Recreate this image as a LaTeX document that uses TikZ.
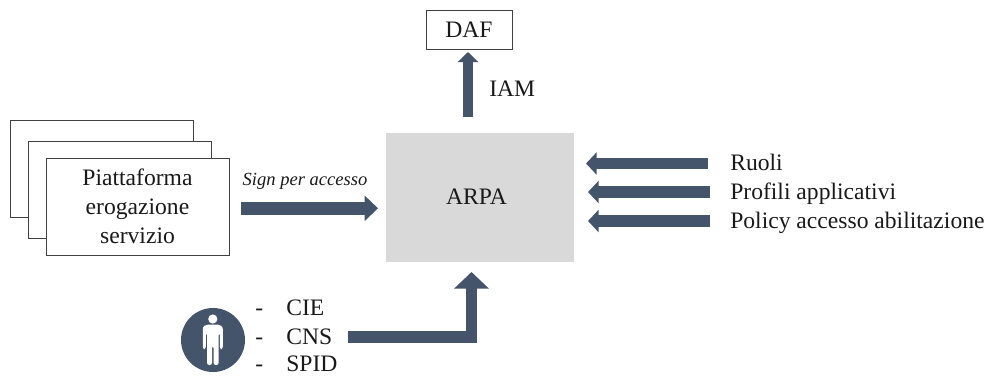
\documentclass[tikz,border=0pt]{standalone}
\usepackage{fontspec}
\setmainfont{Liberation Serif}
\usetikzlibrary{arrows.meta}
\definecolor{arrowblue}{HTML}{44546A}
\definecolor{boxline}{HTML}{404040}
\definecolor{arpagrey}{HTML}{D9D9D9}
\tikzset{
  x=0.75pt,y=-0.75pt,
  card/.style={draw=boxline,line width=0.75pt,fill=white,minimum width=137.25pt,minimum height=72.75pt,inner sep=0pt},
  lbl/.style={font=\fontsize{17.7}{21.7}\selectfont,inner sep=0pt,text=black!90},
  listlbl/.style={lbl,anchor=base west},
  blockarrow/.style={arrowblue,line width=10pt,-{Triangle[length=10pt,width=18.5pt]}},
  sidearrow/.style={arrowblue,line width=8.5pt,-{Triangle[length=8pt,width=16.5pt]}},
  smallup/.style={arrowblue,line width=7.5pt,-{Triangle[length=7.5pt,width=15pt]}},
  bigup/.style={arrowblue,line width=8.5pt,-{Triangle[length=12.5pt,width=25.5pt]}},
}
\begin{document}
\begin{tikzpicture}
\useasboundingbox (0,0) rectangle (990,376);
% stacked cards
\node[card] (back) at (101.5,168.5) {};
\node[card] (mid) at (119.5,189.5) {};
\node[card,lbl,align=center] (front) at (137.5,206.5) {Piattaforma\\erogazione\\servizio};
% main boxes
\node[draw=none,fill=arpagrey,minimum width=141pt,minimum height=96.75pt,inner sep=0pt] (arpa) at (480,197.5) {};
\node[lbl] (arpatext) at (476.5,196.5) {ARPA};
\node[draw=boxline,line width=0.75pt,fill=white,minimum width=64.5pt,minimum height=29.25pt,inner sep=0pt,lbl] (daf) at (469,29.5) {DAF};
% sign arrow
\coordinate (signstart) at (241,208.3);
\coordinate (signend) at (378,208.3);
\draw[blockarrow] (signstart) -- (signend);
\node[lbl,font=\fontsize{13.9}{16}\selectfont\itshape] (sign) at (305,181) {Sign per accesso};
% IAM arrow
\coordinate (iamstart) at (468,117);
\coordinate (iamend) at (468,52);
\draw[smallup] (iamstart) -- (iamend);
\node[listlbl] (iam) at (489,96) {IAM};
% right-hand arrows and labels
\coordinate (r1s) at (708,163.5);
\coordinate (r1e) at (586,163.5);
\coordinate (r2s) at (710,192);
\coordinate (r2e) at (588,192);
\coordinate (r3s) at (710,221);
\coordinate (r3e) at (588,221);
\draw[sidearrow] (r1s) -- (r1e);
\draw[sidearrow] (r2s) -- (r2e);
\draw[sidearrow] (r3s) -- (r3e);
\node[listlbl] (ruoli) at (730,170) {Ruoli};
\node[listlbl] (profili) at (730,199.5) {Profili applicativi};
\node[listlbl] (policy) at (730,228) {Policy accesso abilitazione};
% user
\node[circle,fill=arrowblue,minimum size=48pt,inner sep=0pt] (user) at (213,340) {};
\fill[white] (212.8,319) circle (4.6);
\fill[white,rounded corners=1.6pt]
  (206,324.5) -- (219.6,324.5) -- (222.8,327) -- (222.8,349) -- (219.8,349) -- (219.8,333) -- (218.6,333)
  -- (218.6,365) -- (213.6,365) -- (213.6,346) -- (212,346) -- (212,365) -- (207,365) -- (207,333)
  -- (205.8,333) -- (205.8,349) -- (202.8,349) -- (202.8,327) -- cycle;
% list
\node[listlbl] (d1) at (255,315) {-};
\node[listlbl] (d2) at (255,344) {-};
\node[listlbl] (d3) at (255,371) {-};
\node[listlbl] (cie) at (286,315) {CIE};
\node[listlbl] (cns) at (286,344) {CNS};
\node[listlbl] (spid) at (286,371) {SPID};
% elbow arrow
\coordinate (elbowstart) at (348,337);
\coordinate (elbowend) at (471.5,272);
\draw[bigup] (elbowstart) -| (elbowend);
\end{tikzpicture}
\end{document}
